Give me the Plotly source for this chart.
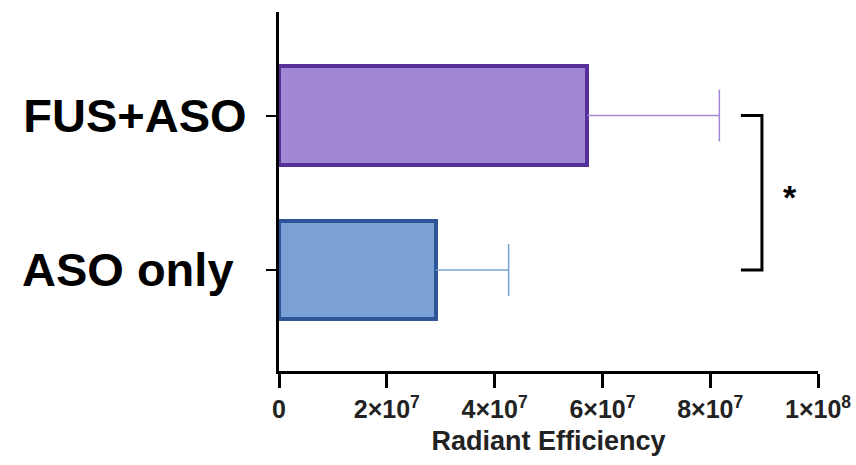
import plotly.graph_objects as go

# ---- data ----
categories = ["ASO only", "FUS+ASO"]
means = [29.1e6, 57.2e6]
errors = [13.5e6, 24.5e6]
fill_colors = ["#7ba0d4", "#a288d4"]
line_colors = ["#2e5597", "#56309a"]
err_colors = ["#7ba0d4", "#a288d4"]

tick_vals = [0, 2e7, 4e7, 6e7, 8e7, 1e8]
tick_text = ["0", "2×10<sup>7</sup>", "4×10<sup>7</sup>", "6×10<sup>7</sup>",
             "8×10<sup>7</sup>", "1×10<sup>8</sup>"]

sig_x_inner = 85.7e6
sig_x_outer = 89.6e6
sig_star_x = 94.8e6
sig_label = "*"

positions = list(range(len(categories)))
# first label sits a little left of the second in the reference
label_text = [categories[0] + "&nbsp;", categories[1]]
FONT = "Liberation Sans, Arial, Helvetica, sans-serif"

fig = go.Figure()
for i, cat in enumerate(categories):
    fig.add_trace(go.Bar(
        x=[means[i]], y=[positions[i]], orientation="h", width=0.635,
        marker=dict(color=fill_colors[i], line=dict(color=line_colors[i], width=4)),
        showlegend=False, hoverinfo="skip",
    ))
    cap = 0.168
    ex = means[i] + errors[i]
    fig.add_trace(go.Scatter(
        x=[means[i], ex, None, ex, ex],
        y=[positions[i], positions[i], None, positions[i] - cap, positions[i] + cap],
        mode="lines", line=dict(color=err_colors[i], width=1.5),
        showlegend=False, hoverinfo="skip", cliponaxis=False,
    ))

# significance bracket
fig.add_trace(go.Scatter(
    x=[sig_x_inner, sig_x_outer, sig_x_outer, sig_x_inner],
    y=[positions[1], positions[1], positions[0], positions[0]],
    mode="lines", line=dict(color="black", width=3),
    showlegend=False, hoverinfo="skip", cliponaxis=False,
))
fig.add_annotation(x=sig_star_x, y=(positions[0] + positions[1]) / 2 - 0.03,
                   text=sig_label, showarrow=False,
                   font=dict(family=FONT, size=34, color="black", weight="bold"))

fig.update_layout(
    width=856, height=465,
    margin=dict(l=279, r=38, t=12, b=94),
    plot_bgcolor="white", paper_bgcolor="white",
    bargap=0,
)
fig.update_xaxes(
    range=[0, 1e8], tickvals=tick_vals, ticktext=tick_text,
    automargin=False,
    showline=True, linecolor="black", linewidth=3,
    ticks="outside", ticklen=14, tickwidth=3, tickcolor="black",
    showgrid=False, zeroline=False,
    tickfont=dict(family=FONT, size=25, color="#222", weight="bold"),
    title=dict(text="Radiant Efficiency", standoff=10,
               font=dict(family=FONT, size=27, color="#222", weight="bold")),
)
fig.update_yaxes(
    range=[-0.654, 1.67], tickvals=positions, ticktext=label_text,
    automargin=False,
    showline=True, linecolor="black", linewidth=3,
    ticks="outside", ticklen=10, tickwidth=2, tickcolor="black",
    showgrid=False, zeroline=False,
    ticklabelstandoff=10,
    tickfont=dict(family=FONT, size=47, color="black", weight="bold"),
)

fig.write_html("out.html")
